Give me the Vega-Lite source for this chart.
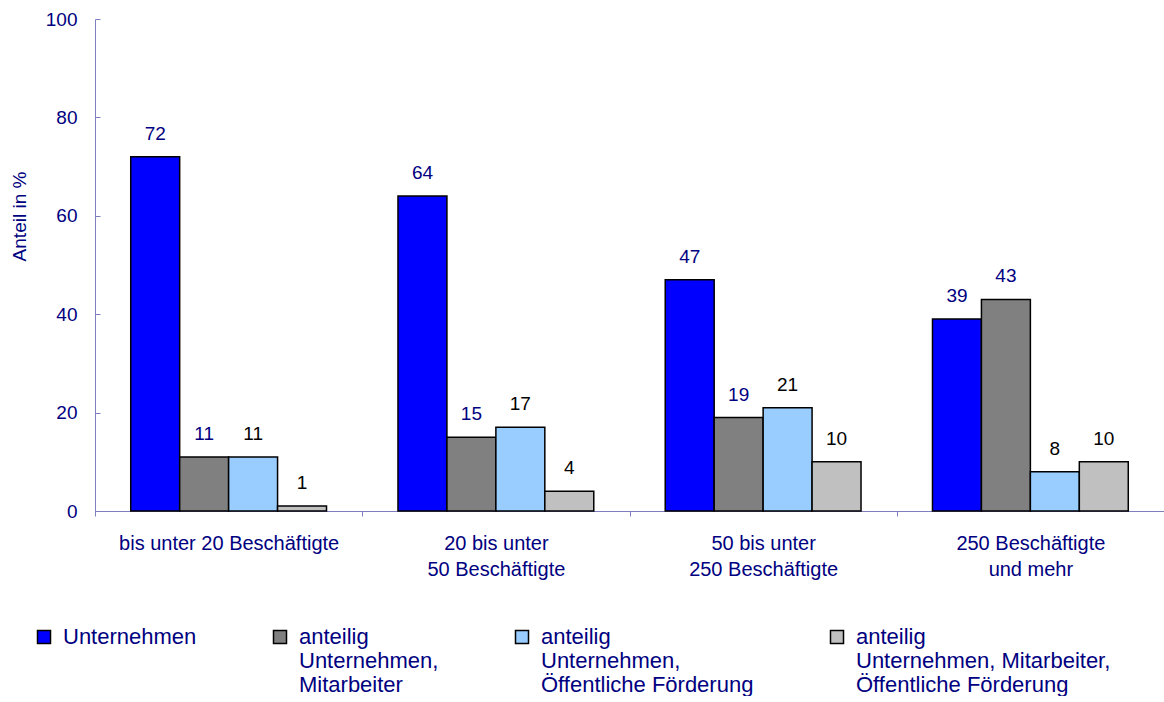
{
  "$schema": "https://vega.github.io/schema/vega-lite/v6.json",
  "width": 1069,
  "height": 492,
  "padding": {"left": 10, "top": 10, "right": 0, "bottom": 0},
  "background": "white",
  "config": {
    "view": {"stroke": null},
    "font": "Liberation Sans",
    "axis": {"grid": false},
    "style": {"guide-label": {"dy": 7}}
  },
  "data": {
    "values": [
      {"category": "bis unter 20 Beschäftigte", "series": "Unternehmen", "value": 72},
      {"category": "bis unter 20 Beschäftigte", "series": "anteilig Unternehmen, Mitarbeiter", "value": 11},
      {"category": "bis unter 20 Beschäftigte", "series": "anteilig Unternehmen, Öffentliche Förderung", "value": 11},
      {"category": "bis unter 20 Beschäftigte", "series": "anteilig Unternehmen, Mitarbeiter, Öffentliche Förderung", "value": 1},
      {"category": "20 bis unter 50 Beschäftigte", "series": "Unternehmen", "value": 64},
      {"category": "20 bis unter 50 Beschäftigte", "series": "anteilig Unternehmen, Mitarbeiter", "value": 15},
      {"category": "20 bis unter 50 Beschäftigte", "series": "anteilig Unternehmen, Öffentliche Förderung", "value": 17},
      {"category": "20 bis unter 50 Beschäftigte", "series": "anteilig Unternehmen, Mitarbeiter, Öffentliche Förderung", "value": 4},
      {"category": "50 bis unter 250 Beschäftigte", "series": "Unternehmen", "value": 47},
      {"category": "50 bis unter 250 Beschäftigte", "series": "anteilig Unternehmen, Mitarbeiter", "value": 19},
      {"category": "50 bis unter 250 Beschäftigte", "series": "anteilig Unternehmen, Öffentliche Förderung", "value": 21},
      {"category": "50 bis unter 250 Beschäftigte", "series": "anteilig Unternehmen, Mitarbeiter, Öffentliche Förderung", "value": 10},
      {"category": "250 Beschäftigte und mehr", "series": "Unternehmen", "value": 39},
      {"category": "250 Beschäftigte und mehr", "series": "anteilig Unternehmen, Mitarbeiter", "value": 43},
      {"category": "250 Beschäftigte und mehr", "series": "anteilig Unternehmen, Öffentliche Förderung", "value": 8},
      {"category": "250 Beschäftigte und mehr", "series": "anteilig Unternehmen, Mitarbeiter, Öffentliche Förderung", "value": 10}
    ]
  },
  "encoding": {
    "x": {
      "field": "category",
      "type": "nominal",
      "sort": null,
      "scale": {"paddingInner": 0, "paddingOuter": 0},
      "axis": {
        "title": null,
        "labelAngle": 0,
        "tickBand": "extent",
        "tickSize": 5,
        "tickColor": "#7f7fbf",
        "domainColor": "#7f7fbf",
        "labelColor": "#000080",
        "labelFontSize": 20,
        "labelPadding": 10,
        "labelLineHeight": 26,
        "labelBaseline": "top",
        "labelLimit": 400,
        "labelExpr": "datum.label == '20 bis unter 50 Beschäftigte' ? ['20 bis unter', '50 Beschäftigte'] : datum.label == '50 bis unter 250 Beschäftigte' ? ['50 bis unter', '250 Beschäftigte'] : datum.label == '250 Beschäftigte und mehr' ? ['250 Beschäftigte', 'und mehr'] : datum.label"
      }
    },
    "xOffset": {
      "field": "series",
      "type": "nominal",
      "sort": null,
      "scale": {"paddingInner": 0, "paddingOuter": 0.73}
    },
    "y": {
      "field": "value",
      "type": "quantitative",
      "scale": {"domain": [0, 100], "nice": false},
      "axis": {
        "title": "Anteil in %",
        "titleColor": "#000080",
        "titleFontSize": 19,
        "titleFontWeight": "normal",
        "titlePadding": 16,
        "titleY": 197,
        "values": [0, 20, 40, 60, 80, 100],
        "tickSize": -5,
        "tickColor": "#7f7fbf",
        "domainColor": "#7f7fbf",
        "labelColor": "#000080",
        "labelFontSize": 19,
        "labelPadding": 23,
        "labelOffset": -7
      }
    }
  },
  "layer": [
    {
      "mark": {"type": "bar", "stroke": "black", "strokeWidth": 1.5},
      "encoding": {
        "color": {
          "field": "series",
          "type": "nominal",
          "sort": null,
          "scale": {
            "domain": ["Unternehmen", "anteilig Unternehmen, Mitarbeiter", "anteilig Unternehmen, Öffentliche Förderung", "anteilig Unternehmen, Mitarbeiter, Öffentliche Förderung"],
            "range": ["#0000ff", "#808080", "#99ccff", "#c0c0c0"]
          },
          "legend": {
            "title": null,
            "orient": "none",
            "legendX": -62,
            "legendY": 607,
            "direction": "horizontal",
            "columns": 4,
            "columnPadding": 72,
            "padding": 0,
            "symbolType": "square",
            "symbolSize": 169,
            "symbolStrokeColor": "black",
            "symbolStrokeWidth": 1.5,
            "labelColor": "#000080",
            "labelFontSize": 22,
            "labelLineHeight": 27,
            "labelOffset": 8,
            "labelLimit": 400,
            "labelBaseline": "alphabetic",
            "labelExpr": "datum.label == 'anteilig Unternehmen, Mitarbeiter' ? ['anteilig', 'Unternehmen,', 'Mitarbeiter'] : datum.label == 'anteilig Unternehmen, Öffentliche Förderung' ? ['anteilig', 'Unternehmen,', 'Öffentliche Förderung'] : datum.label == 'anteilig Unternehmen, Mitarbeiter, Öffentliche Förderung' ? ['anteilig', 'Unternehmen, Mitarbeiter,', 'Öffentliche Förderung'] : ['Unternehmen', ' ', ' ']"
          }
        }
      }
    },
    {
      "mark": {"type": "text", "fontSize": 19, "baseline": "alphabetic", "dy": -17},
      "encoding": {
        "text": {"field": "value", "type": "quantitative"},
        "color": {
          "condition": {
            "test": "datum.series == 'Unternehmen' || datum.series == 'anteilig Unternehmen, Mitarbeiter'",
            "value": "#000080"
          },
          "value": "black"
        }
      }
    }
  ]
}
